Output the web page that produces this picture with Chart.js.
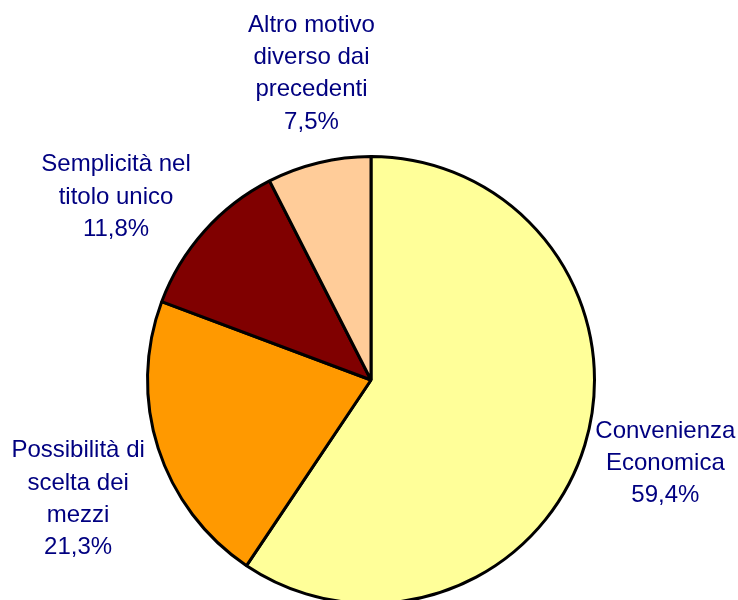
<!DOCTYPE html>
<html>
<head>
<meta charset="utf-8">
<script src="https://cdn.jsdelivr.net/npm/chart.js@4"></script>
<style>
  html, body { margin: 0; padding: 0; background: #fff; }
  canvas { display: block; }
</style>
</head>
<body>
<canvas id="torta" width="738" height="600"></canvas>
<script>
// categorie (una riga per elemento) e valori percentuali
const categorie = [
  ['Convenienza', 'Economica'],
  ['Possibilità di', 'scelta dei', 'mezzi'],
  ['Semplicità nel', 'titolo unico'],
  ['Altro motivo', 'diverso dai', 'precedenti']
];
const valori = [59.4, 21.3, 11.8, 7.5];

const colori = ['#FFFF99', '#FF9900', '#800000', '#FFCC99'];

// spostamenti delle etichette rispetto alla posizione radiale
const spostamenti = [[-7, -10], [7, 21], [-20, 25], [14, -2]];

const EtichettePlugin = {
  id: 'etichette',
  afterDatasetsDraw: (chart, args, opts) => {
    const { ctx } = chart;
    const meta = chart.getDatasetMeta(0);
    ctx.save();
    ctx.font = opts.font;
    ctx.fillStyle = opts.color;
    ctx.textAlign = 'center';
    ctx.textBaseline = 'alphabetic';
    meta.data.forEach((arc, i) => {
      const p = arc.getProps(['x', 'y', 'startAngle', 'endAngle', 'outerRadius'], true);
      const mid = (p.startAngle + p.endAngle) / 2;
      const d = p.outerRadius + opts.distanza;
      const cx = p.x + Math.cos(mid) * d + spostamenti[i][0];
      const cy = p.y + Math.sin(mid) * d + spostamenti[i][1];
      const righe = categorie[i].concat([valori[i].toFixed(1).replace('.', ',') + '%']);
      const y0 = cy - (righe.length - 1) * opts.interlinea / 2 + opts.mezzaMaiuscola;
      righe.forEach((r, k) => ctx.fillText(r, cx, y0 + k * opts.interlinea));
    });
    ctx.restore();
  }
};

new Chart('torta', {
  type: 'pie',
  data: {
    labels: categorie,
    datasets: [{
      data: valori,
      backgroundColor: colori,
      borderColor: '#000000',
      borderWidth: 3,
      radius: 223.5
    }]
  },
  options: {
    responsive: false,
    animation: false,
    layout: { padding: { left: 140, right: 136, top: 160, bottom: 0 } },
    plugins: {
      legend: { display: false },
      tooltip: { enabled: false },
      etichette: {
        font: '24px "Liberation Sans", Arial, sans-serif',
        color: '#000080',
        distanza: 91.5,
        interlinea: 32.3,
        mezzaMaiuscola: 8.5
      }
    }
  },
  plugins: [EtichettePlugin]
});
</script>
</body>
</html>
